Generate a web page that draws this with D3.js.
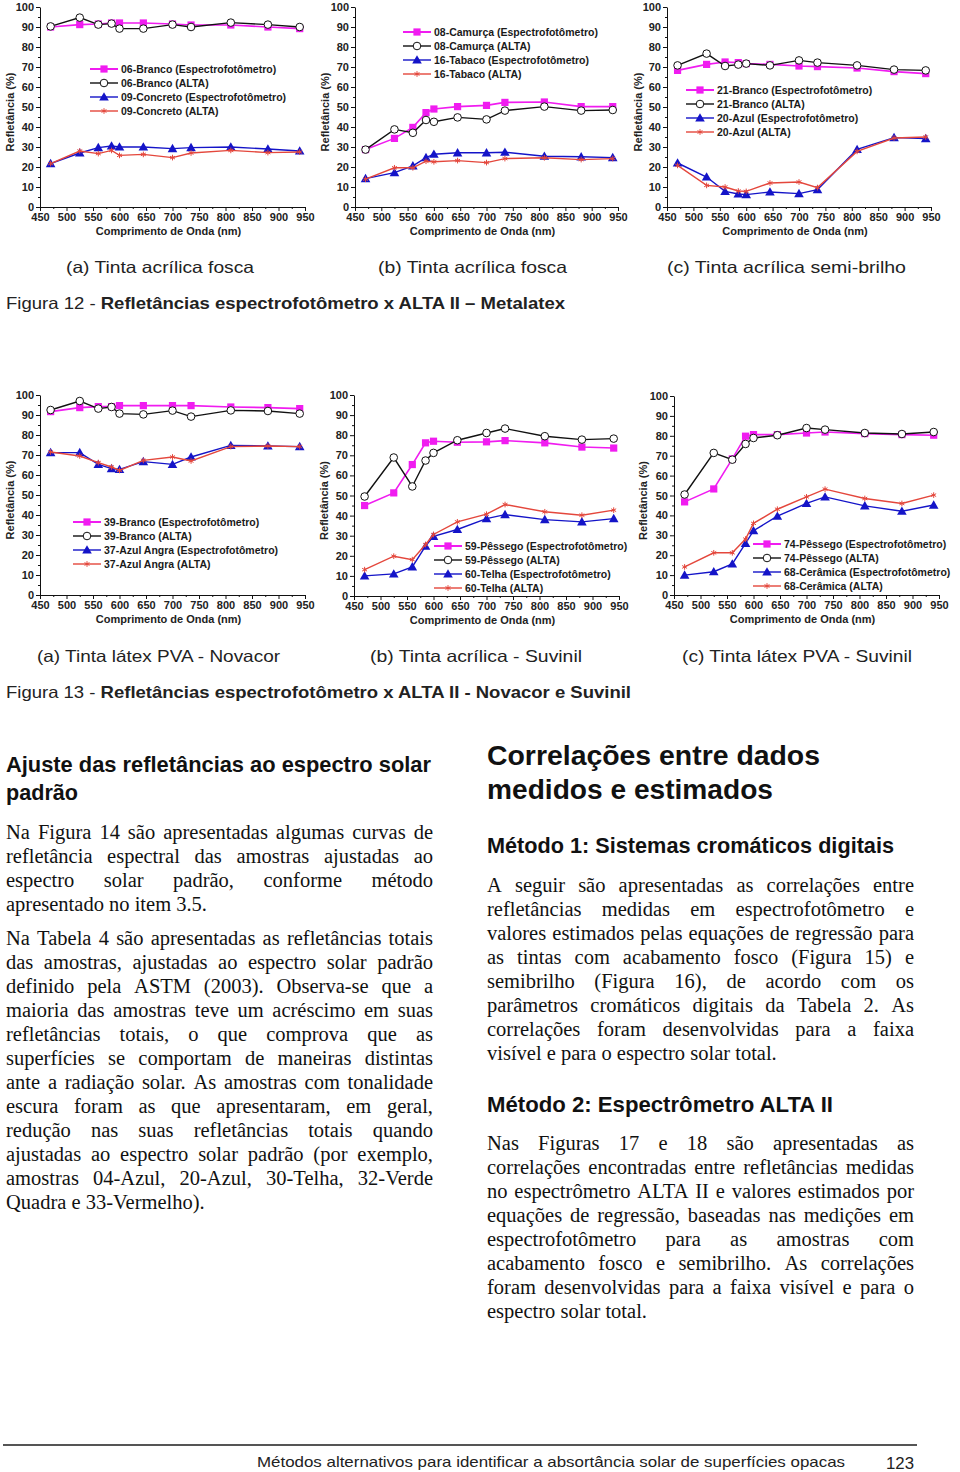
<!DOCTYPE html>
<html><head><meta charset="utf-8">
<script src="https://cdn.jsdelivr.net/npm/d3@7"></script>
<style>body{margin:0;background:#fff} svg{display:block}</style>
</head><body><svg id="page" width="960" height="1472"></svg>
<script>
// ---------- DATA ----------
const wavelengths = [470, 525, 560, 585, 600, 645, 700, 735, 810, 880, 940];
const xTickValues = [450, 500, 550, 600, 650, 700, 750, 800, 850, 900, 950];
const yTickValues = [0, 10, 20, 30, 40, 50, 60, 70, 80, 90, 100];

const fig12aNames = ["06-Branco (Espectrofotômetro)", "06-Branco (ALTA)", "09-Concreto (Espectrofotômetro)", "09-Concreto (ALTA)"];
const fig12aS1 = [90, 91.2, 91.5, 92, 92, 92, 91.5, 91, 91, 90, 89.2];
const fig12aS2 = [90.3, 94.7, 91.2, 91.7, 89.2, 89.2, 91.2, 90, 92.2, 91.2, 90];
const fig12aS3 = [21.7, 27, 29.7, 30.5, 30, 30, 29.2, 29.7, 30, 29, 28];
const fig12aS4 = [21.7, 28, 26.7, 28.3, 25.8, 26.3, 24.7, 27, 28.3, 27.2, 27.5];

const fig12bNames = ["08-Camurça (Espectrofotômetro)", "08-Camurça (ALTA)", "16-Tabaco (Espectrofotômetro)", "16-Tabaco (ALTA)"];
const fig12bS1 = [28.7, 34.3, 39.8, 47.2, 49, 50.2, 50.8, 52.3, 52.5, 50.2, 50.2];
const fig12bS2 = [28.7, 38.8, 37.1, 43.5, 42.6, 44.8, 43.8, 48.2, 50.2, 48.2, 48.5];
const fig12bS3 = [14.2, 17.2, 20.6, 24.7, 26.4, 27.1, 27.1, 27.4, 25.4, 25.1, 24.7];
const fig12bS4 = [13.9, 19.6, 19.6, 22.9, 22.6, 23.2, 22.2, 24.2, 24.6, 23.7, 24.2];

const fig12cNames = ["21-Branco (Espectrofotômetro)", "21-Branco (ALTA)", "20-Azul (Espectrofotômetro)", "20-Azul (ALTA)"];
const fig12cS1 = [68.3, 71.3, 72.5, 72.2, 71.7, 71.3, 70.5, 70.2, 69.5, 67.7, 66.7];
const fig12cS2 = [70.8, 76.7, 70.5, 71.2, 71.7, 70.8, 73.3, 72.2, 70.8, 68.7, 68.3];
const fig12cS3 = [22, 15, 7.8, 6.5, 6.2, 7.5, 6.7, 8.7, 28.8, 34.7, 34.2];
const fig12cS4 = [20.8, 10.8, 10, 8, 7.8, 12, 12.5, 9.7, 27.8, 34.5, 35];

const fig13aNames = ["39-Branco (Espectrofotômetro)", "39-Branco (ALTA)", "37-Azul Angra (Espectrofotômetro)", "37-Azul Angra (ALTA)"];
const fig13aS1 = [91.7, 93.7, 94.2, 94.2, 94.7, 94.7, 94.7, 94.7, 94, 93.7, 93.2];
const fig13aS2 = [92.5, 97, 93.2, 94, 90.7, 90.3, 92.2, 89.2, 92.3, 92, 90.7];
const fig13aS3 = [71.2, 71.2, 65.3, 63.2, 62.8, 66.7, 65.3, 69, 74.8, 74.5, 74.2];
const fig13aS4 = [71.5, 69.5, 66.2, 64, 62.3, 67.3, 69, 67, 74.2, 74.5, 74.2];

const fig13bNames = ["59-Pêssego (Espectrofotômetro)", "59-Pêssego (ALTA)", "60-Telha (Espectrofotômetro)", "60-Telha (ALTA)"];
const fig13bS1 = [45, 51.3, 65.4, 76.2, 77, 76.5, 76.7, 77.3, 76.2, 74.1, 73.6];
const fig13bS2 = [49.5, 68.9, 54.5, 67.4, 71.2, 77.5, 81.1, 83.3, 79.5, 77.8, 78.3];
const fig13bS3 = [10, 11, 14.5, 24.8, 29.7, 33.1, 38.5, 40.5, 38, 36.9, 38.5];
const fig13bS4 = [13.1, 19.8, 18.1, 25.6, 30.6, 36.9, 40.7, 45.5, 41.9, 40.2, 42.7];

const fig13cNames = ["74-Pêssego (Espectrofotômetro)", "74-Pêssego (ALTA)", "68-Cerâmica (Espectrofotômetro)", "68-Cerâmica (ALTA)"];
const fig13cS1 = [46.8, 53.3, 68.4, 79.8, 80.6, 80.6, 81.4, 81.9, 81.1, 80.6, 80.3];
const fig13cS2 = [50.5, 71.4, 68, 75.9, 78.9, 80.3, 83.9, 83.1, 81.4, 80.9, 81.9];
const fig13cS3 = [10, 11.7, 15.6, 25.9, 32.3, 39.6, 46, 49.3, 44.8, 42.1, 45.2];
const fig13cS4 = [14.1, 21.2, 21.2, 28.1, 36, 43.1, 49.3, 53.2, 48.5, 46, 50.2];

const yAxisTitle = "Refletância (%)";
const xAxisTitle = "Comprimento de Onda (nm)";

// ---------- LAYOUT ----------
const svg = d3.select('#page');
const SANS = "'Liberation Sans', Arial, Helvetica, sans-serif";
const SERIF = "'Liberation Serif', 'Times New Roman', serif";
const styles = [
  {color: '#f01cf0', marker: 'square', lw: 1.6},
  {color: '#111111', marker: 'circle', lw: 1.4},
  {color: '#1414c8', marker: 'triangle', lw: 1.4},
  {color: '#e4473c', marker: 'star', lw: 1.4}
];

const charts = [
  {names: fig12aNames, series: [fig12aS1, fig12aS2, fig12aS3, fig12aS4], x0: 40, x1: 305, yb: 207, yt: 7, lx: 90, ly: 69, yl: 10},
  {names: fig12bNames, series: [fig12bS1, fig12bS2, fig12bS3, fig12bS4], x0: 355, x1: 618, yb: 207, yt: 7, lx: 403, ly: 32, yl: 325},
  {names: fig12cNames, series: [fig12cS1, fig12cS2, fig12cS3, fig12cS4], x0: 667, x1: 931, yb: 207, yt: 7, lx: 686, ly: 90, yl: 638},
  {names: fig13aNames, series: [fig13aS1, fig13aS2, fig13aS3, fig13aS4], x0: 40, x1: 305, yb: 595, yt: 395, lx: 73, ly: 522, yl: 10},
  {names: fig13bNames, series: [fig13bS1, fig13bS2, fig13bS3, fig13bS4], x0: 354, x1: 619, yb: 596, yt: 395, lx: 434, ly: 546, yl: 324},
  {names: fig13cNames, series: [fig13cS1, fig13cS2, fig13cS3, fig13cS4], x0: 674, x1: 939, yb: 595, yt: 396, lx: 753, ly: 544, yl: 643}
];

function drawMarker(g, type, color, cx, cy) {
  if (type === 'square') {
    g.append('rect').attr('x', cx - 3.6).attr('y', cy - 3.6).attr('width', 7.2).attr('height', 7.2).attr('fill', color);
  } else if (type === 'circle') {
    g.append('circle').attr('cx', cx).attr('cy', cy).attr('r', 3.8).attr('fill', '#fff').attr('stroke', color).attr('stroke-width', 1);
  } else if (type === 'triangle') {
    g.append('path').attr('d', d3.symbol(d3.symbolTriangle, 40)()).attr('transform', `translate(${cx},${cy + 0.8})`).attr('fill', color);
  } else {
    g.append('path').attr('d', d3.symbol(d3.symbolAsterisk, 22)()).attr('transform', `translate(${cx},${cy})`).attr('fill', 'none').attr('stroke', color).attr('stroke-width', 1);
  }
}

function styleAxis(sel) {
  sel.selectAll('text').attr('font-family', SANS).attr('font-weight', 'bold').attr('font-size', 11).attr('fill', '#222');
  sel.selectAll('line').attr('stroke', '#111');
  sel.selectAll('.domain').attr('stroke', '#111');
}

charts.forEach(c => {
  const g = svg.append('g');
  const x = d3.scaleLinear().domain([450, 950]).range([c.x0, c.x1]);
  const y = d3.scaleLinear().domain([0, 100]).range([c.yb, c.yt]);
  const xMinor = xTickValues.slice(0, -1).map(v => v + 25);
  const yMinor = yTickValues.slice(0, -1).map(v => v + 5);

  g.append('g').attr('transform', `translate(0,${c.yb})`)
    .call(d3.axisBottom(x).tickValues(xMinor).tickSize(2).tickFormat(''))
    .call(s => s.select('.domain').remove()).call(styleAxis);
  g.append('g').attr('transform', `translate(${c.x0},0)`)
    .call(d3.axisLeft(y).tickValues(yMinor).tickSize(2).tickFormat(''))
    .call(s => s.select('.domain').remove()).call(styleAxis);
  g.append('g').attr('transform', `translate(0,${c.yb})`)
    .call(d3.axisBottom(x).tickValues(xTickValues).tickSize(4).tickSizeOuter(0).tickPadding(2))
    .call(styleAxis);
  g.append('g').attr('transform', `translate(${c.x0},0)`)
    .call(d3.axisLeft(y).tickValues(yTickValues).tickSize(4).tickSizeOuter(0).tickPadding(2))
    .call(styleAxis);

  g.append('text').attr('x', (c.x0 + c.x1) / 2 - 4).attr('y', c.yb + 28)
    .attr('text-anchor', 'middle').attr('font-family', SANS).attr('font-weight', 'bold')
    .attr('font-size', 11).attr('fill', '#222').text(xAxisTitle);
  const ym = (c.yb + c.yt) / 2 + 5;
  g.append('text').attr('transform', `translate(${c.yl + 4},${ym}) rotate(-90)`)
    .attr('text-anchor', 'middle').attr('font-family', SANS).attr('font-weight', 'bold')
    .attr('font-size', 11).attr('fill', '#222').text(yAxisTitle);

  const line = d3.line().x((d, i) => x(wavelengths[i])).y(d => y(d));
  c.series.forEach((s, k) => {
    const st = styles[k];
    g.append('path').datum(s).attr('d', line).attr('fill', 'none')
      .attr('stroke', st.color).attr('stroke-width', st.lw);
    s.forEach((v, i) => drawMarker(g, st.marker, st.color, x(wavelengths[i]), y(v)));
  });

  c.names.forEach((n, k) => {
    const st = styles[k];
    const yy = c.ly + k * 14;
    g.append('line').attr('x1', c.lx).attr('x2', c.lx + 28).attr('y1', yy).attr('y2', yy)
      .attr('stroke', st.color).attr('stroke-width', k === 0 ? 2 : 1.4);
    drawMarker(g, st.marker, st.color, c.lx + 14, yy);
    g.append('text').attr('x', c.lx + 31).attr('y', yy).attr('dy', '0.35em')
      .attr('font-family', SANS).attr('font-weight', 'bold').attr('font-size', 10.5)
      .attr('fill', '#1a1a1a').text(n);
  });
});

// ---------- TEXT ----------
function label(x, y, str, size, opts = {}) {
  const t = svg.append('text').attr('x', x).attr('y', y).attr('dy', '0.35em')
    .attr('font-family', opts.family || SANS).attr('font-size', size)
    .attr('font-weight', opts.weight || 'normal').attr('fill', opts.fill || '#111');
  if (opts.anchor) t.attr('text-anchor', opts.anchor);
  if (opts.parts) {
    opts.parts.forEach(p => t.append('tspan').attr('font-weight', p[1] ? 'bold' : 'normal').text(p[0]));
  } else t.text(str);
  if (opts.len) t.attr('textLength', opts.len).attr('lengthAdjust', 'spacingAndGlyphs');
  return t;
}

const captionsRow1 = ["(a) Tinta acrílica fosca", "(b) Tinta acrílica fosca", "(c) Tinta acrílica semi-brilho"];
const captionsRow2 = ["(a) Tinta látex PVA - Novacor", "(b) Tinta acrílica - Suvinil", "(c) Tinta látex PVA - Suvinil"];
[[66, 188], [378, 189], [667, 239]].forEach((p, i) => label(p[0], 267, captionsRow1[i], 16.5, {len: p[1], fill: '#222'}));
[[37, 243], [370, 212], [682, 230]].forEach((p, i) => label(p[0], 656, captionsRow2[i], 16.5, {len: p[1], fill: '#222'}));

label(6, 303, null, 16.5, {len: 559, fill: '#222', parts: [["Figura 12 - ", false], ["Refletâncias espectrofotômetro x ALTA II – Metalatex", true]]});
label(6, 692, null, 16.5, {len: 625, fill: '#222', parts: [["Figura 13 - ", false], ["Refletâncias espectrofotômetro x ALTA II - Novacor e Suvinil", true]]});

label(6, 764, "Ajuste das refletâncias ao espectro solar", 21.5, {weight: 'bold', len: 425});
label(6, 792, "padrão", 21.5, {weight: 'bold', len: 72});
label(487, 755, "Correlações entre dados", 28, {weight: 'bold', len: 333});
label(487, 789, "medidos e estimados", 28, {weight: 'bold', len: 286});
label(487, 845, "Método 1: Sistemas cromáticos digitais", 21.5, {weight: 'bold', len: 407});
label(487, 1104, "Método 2: Espectrômetro ALTA II", 21.5, {weight: 'bold', len: 346});

function paragraph(lines, x, y0, width) {
  lines.forEach((str, i) => {
    const y = y0 + i * 24;
    const t = svg.append('text').attr('x', x).attr('y', y).attr('dy', '0.33em')
      .attr('font-family', SERIF).attr('font-size', 20.5).attr('fill', '#111');
    if (i === lines.length - 1) { t.text(str); return; }
    const words = str.split(' ');
    const widths = words.map(w => {
      const tmp = svg.append('text').attr('font-family', SERIF).attr('font-size', 20.5).text(w);
      const l = tmp.node().getComputedTextLength(); tmp.remove(); return l;
    });
    const gap = (width - d3.sum(widths)) / (words.length - 1);
    let cx = x;
    words.forEach((w, k) => { t.append('tspan').attr('x', cx).text(w); cx += widths[k] + gap; });
  });
}

paragraph([
  "Na Figura 14 são apresentadas algumas curvas de",
  "refletância espectral das amostras ajustadas ao",
  "espectro solar padrão, conforme método",
  "apresentado no item 3.5."
], 6, 832, 427);
paragraph([
  "Na Tabela 4 são apresentadas as refletâncias totais",
  "das amostras, ajustadas ao espectro solar padrão",
  "definido pela ASTM (2003). Observa-se que a",
  "maioria das amostras teve um acréscimo em suas",
  "refletâncias totais, o que comprova que as",
  "superfícies se comportam de maneiras distintas",
  "ante a radiação solar. As amostras com tonalidade",
  "escura foram as que apresentaram, em geral,",
  "redução nas suas refletâncias totais quando",
  "ajustadas ao espectro solar padrão (por exemplo,",
  "amostras 04-Azul, 20-Azul, 30-Telha, 32-Verde",
  "Quadra e 33-Vermelho)."
], 6, 938, 427);
paragraph([
  "A seguir são apresentadas as correlações entre",
  "refletâncias medidas em espectrofotômetro e",
  "valores estimados pelas equações de regressão para",
  "as tintas com acabamento fosco (Figura 15) e",
  "semibrilho (Figura 16), de acordo com os",
  "parâmetros cromáticos digitais da Tabela 2. As",
  "correlações foram desenvolvidas para a faixa",
  "visível e para o espectro solar total."
], 487, 885, 427);
paragraph([
  "Nas Figuras 17 e 18 são apresentadas as",
  "correlações encontradas entre refletâncias medidas",
  "no espectrômetro ALTA II e valores estimados por",
  "equações de regressão, baseadas nas medições em",
  "espectrofotômetro para as amostras com",
  "acabamento fosco e semibrilho. As correlações",
  "foram desenvolvidas para a faixa visível e para o",
  "espectro solar total."
], 487, 1143, 427);

// footer
svg.append('line').attr('x1', 3).attr('x2', 917).attr('y1', 1445).attr('y2', 1445)
  .attr('stroke', '#555').attr('stroke-width', 2);
label(257, 1462, "Métodos alternativos para identificar a absortância solar de superfícies opacas", 15, {len: 588, fill: '#222'});
label(886, 1463, "123", 16, {len: 28, fill: '#222'});
</script></body></html>
